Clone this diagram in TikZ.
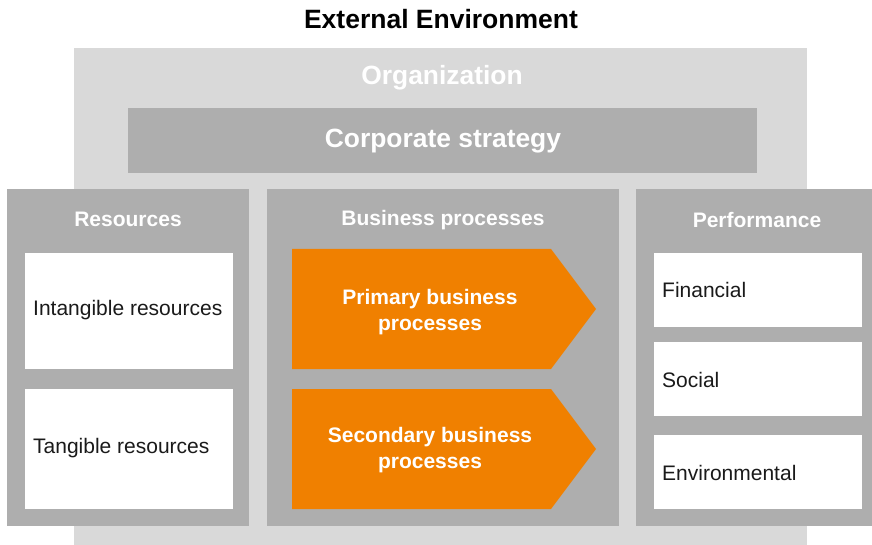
\documentclass[tikz,border=0pt]{standalone}
\usepackage{fontspec}
\setmainfont{Liberation Sans}
\definecolor{lightgrey}{HTML}{D9D9D9}
\definecolor{midgrey}{HTML}{AEAEAE}
\definecolor{procorange}{HTML}{F08000}
\definecolor{txt}{HTML}{1A1A1A}
\tikzset{
  area/.style={fill=#1, draw=none, inner sep=0pt, anchor=north west},
  head/.style={font=\fontsize{21}{25}\selectfont\bfseries, text=white, inner sep=0pt},
  bighead/.style={font=\fontsize{26.4}{30}\selectfont\bfseries, text=white, inner sep=0pt},
  itemtext/.style={font=\fontsize{21}{25}\selectfont, text=txt, inner sep=0pt, anchor=west},
  proctext/.style={font=\fontsize{21}{26}\selectfont\bfseries, text=white, inner sep=0pt, align=center},
}
\begin{document}
\begin{tikzpicture}[x=1pt,y=-1pt]
\useasboundingbox (0,0) rectangle (872,545);
% title
\node[font=\fontsize{26.5}{30}\selectfont\bfseries, text=black, inner sep=0pt] (ext) at (441,19) {External Environment};
% organization
\node[area=lightgrey, minimum width=733pt, minimum height=497pt] (org) at (74,48) {};
\node[bighead] (orgtxt) at (442,78) {Organization};
\node[area=midgrey, minimum width=629pt, minimum height=65pt] (corp) at (128,108) {};
\node[bighead] (corptxt) at (443,141.5) {Corporate strategy};
% columns
\node[area=midgrey, minimum width=242pt, minimum height=337pt] (res) at (7,189) {};
\node[area=midgrey, minimum width=352pt, minimum height=337pt] (bp) at (267,189) {};
\node[area=midgrey, minimum width=236pt, minimum height=337pt] (perf) at (636,189) {};
\node[head] (restxt) at (128,219.5) {Resources};
\node[head] (bptxt) at (443,220) {Business processes};
\node[head] (perftxt) at (757,219.5) {Performance};
% resources
\node[area=white, minimum width=208pt, minimum height=116pt] (intang) at (25,253) {};
\node[itemtext] (intangtxt) at (33,310.5) {Intangible resources};
\node[area=white, minimum width=208pt, minimum height=120pt] (tang) at (25,389) {};
\node[itemtext] (tangtxt) at (33,448.5) {Tangible resources};
% processes
\fill[procorange] (292,249) -- (551,249) -- (596,309) -- (551,369) -- (292,369) -- cycle;
\node[proctext] (prim) at (430,312) {Primary business\\processes};
\fill[procorange] (292,389) -- (551,389) -- (596,449) -- (551,509) -- (292,509) -- cycle;
\node[proctext] (sec) at (430,450) {Secondary business\\processes};
% performance
\node[area=white, minimum width=208pt, minimum height=74pt] (fin) at (654,253) {};
\node[itemtext] (fintxt) at (662,289.5) {Financial};
\node[area=white, minimum width=208pt, minimum height=74pt] (soc) at (654,342) {};
\node[itemtext] (soctxt) at (662,379.5) {Social};
\node[area=white, minimum width=208pt, minimum height=74pt] (env) at (654,435) {};
\node[itemtext] (envtxt) at (662,472.5) {Environmental};
\end{tikzpicture}
\end{document}
